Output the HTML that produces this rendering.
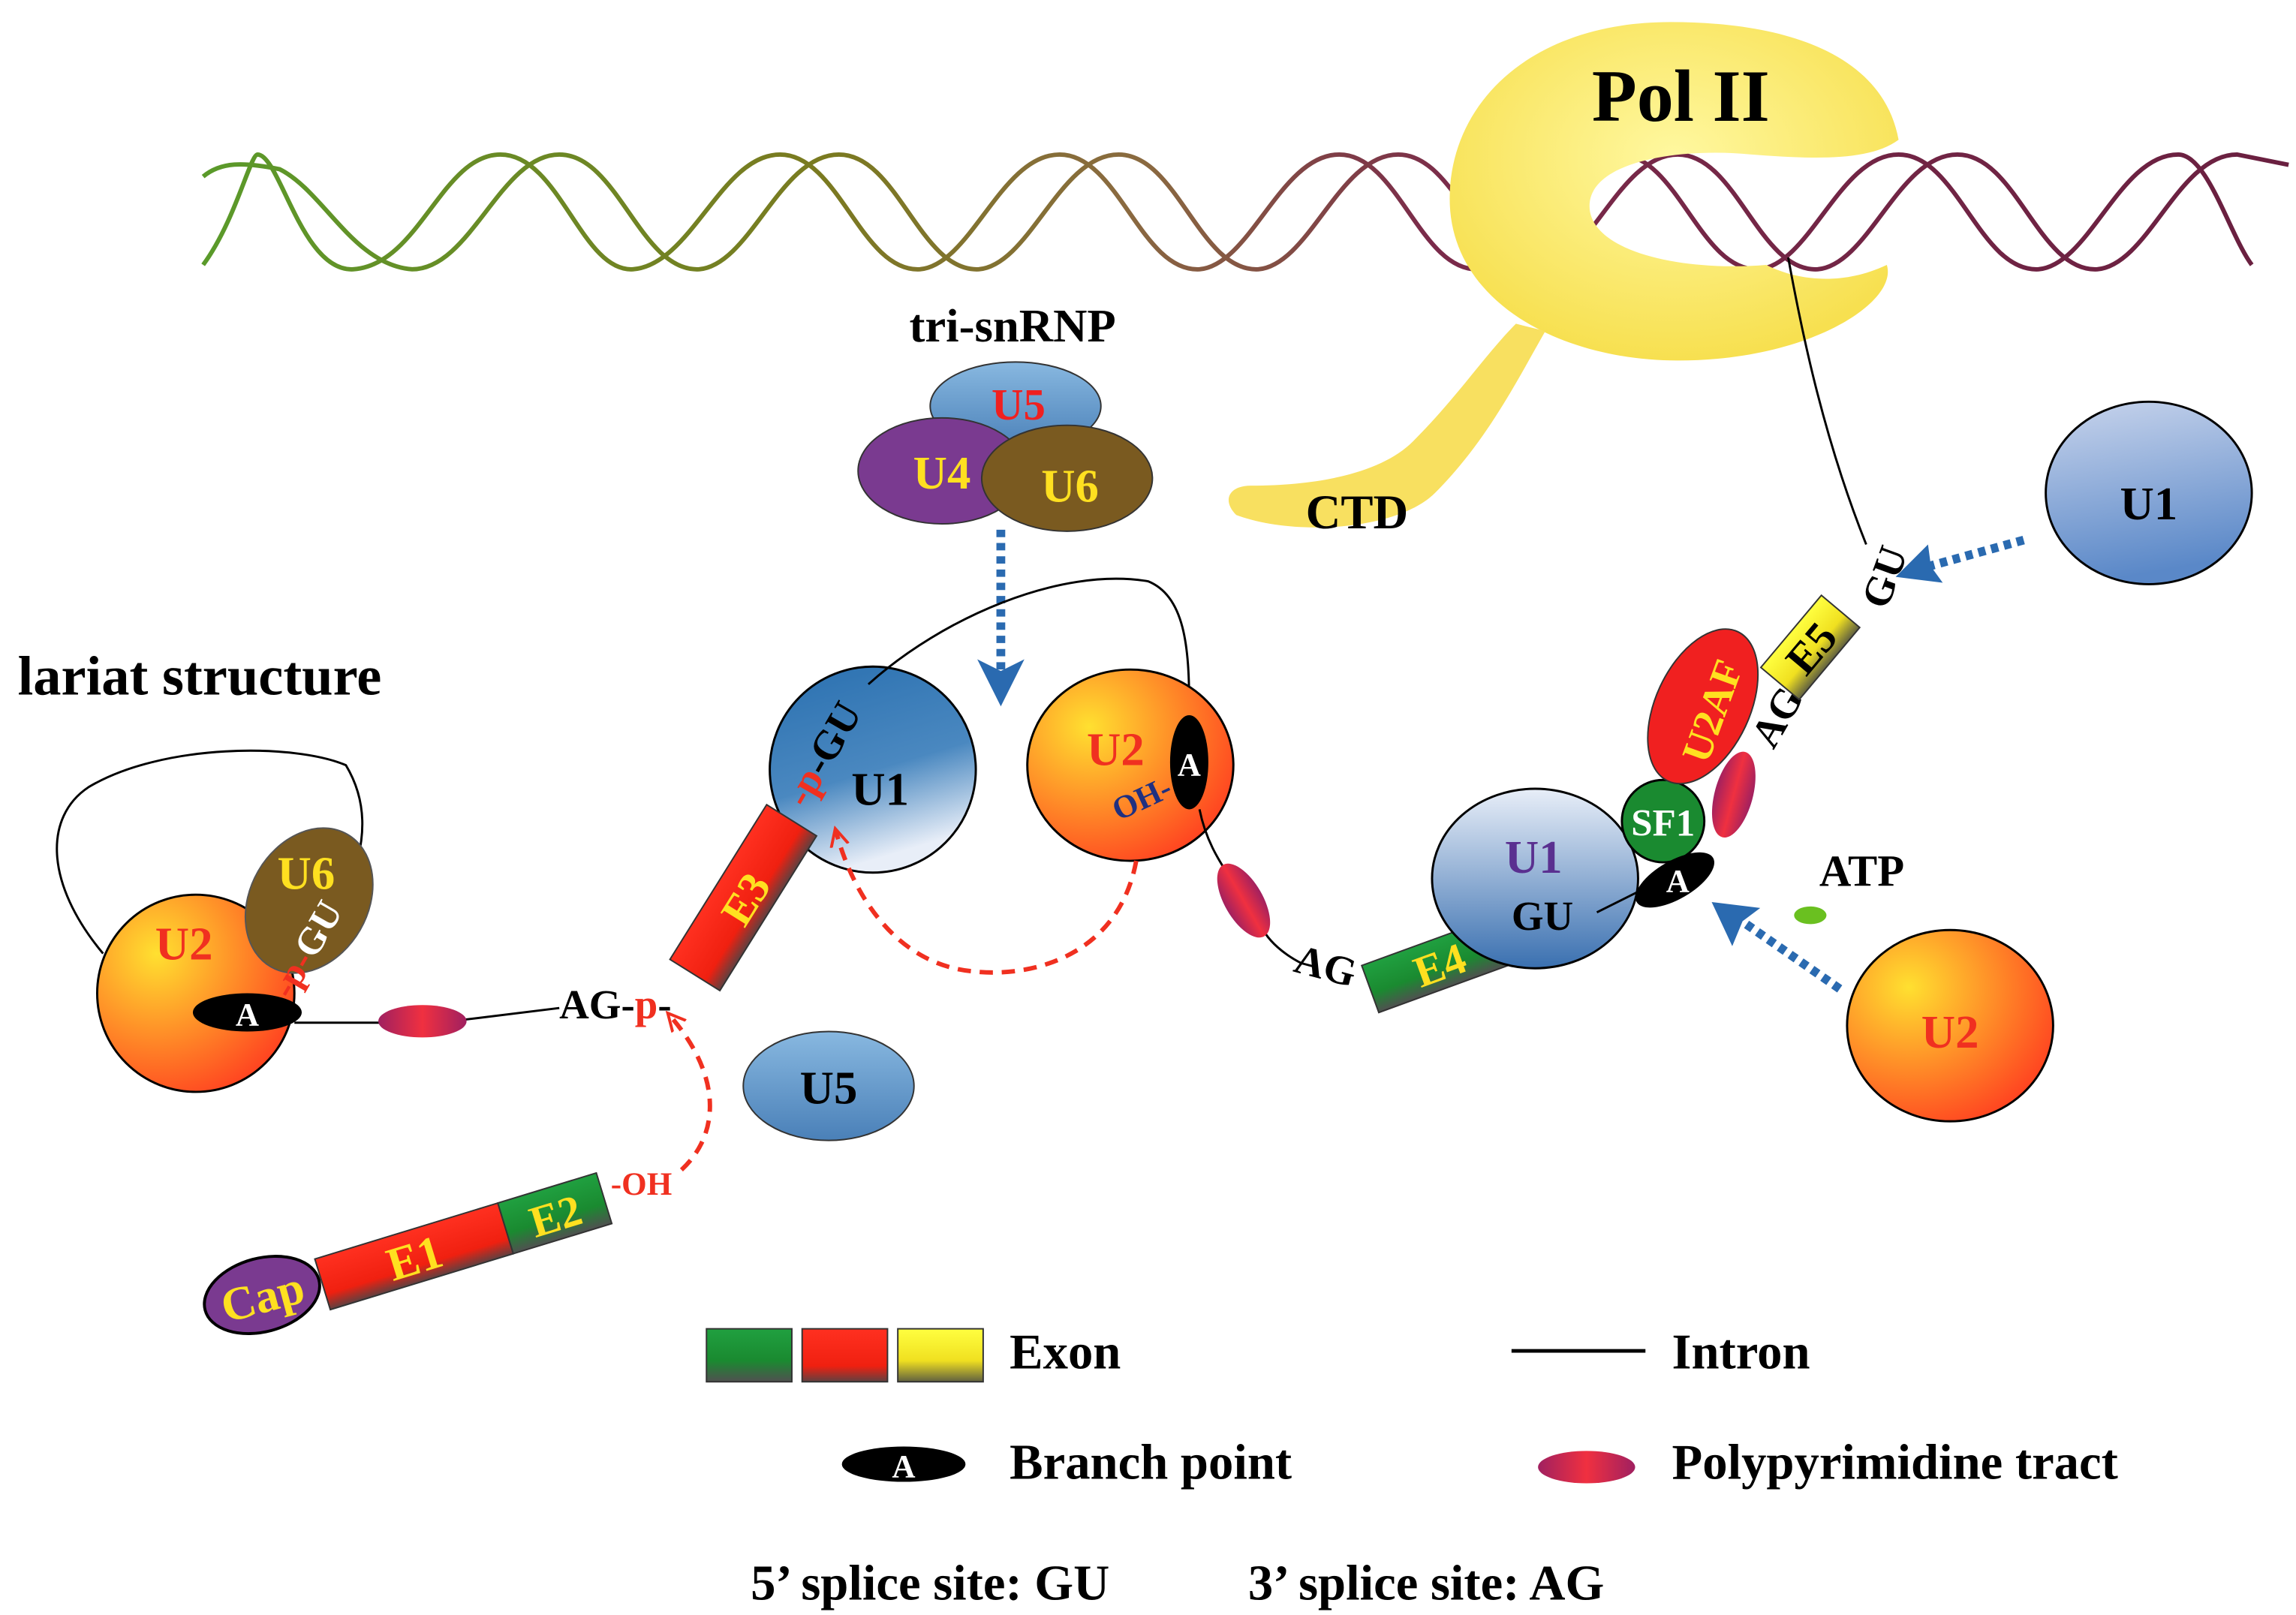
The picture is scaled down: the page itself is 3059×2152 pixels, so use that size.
<!DOCTYPE html>
<html><head><meta charset="utf-8"><style>html,body{margin:0;padding:0;background:#fff}svg{display:block}</style></head><body>
<svg width="3059" height="2152" viewBox="0 0 1560 1097.5" xmlns="http://www.w3.org/2000/svg" font-family="Liberation Serif, serif" font-weight="bold">
<defs>
<linearGradient id="dna" x1="0" x2="1"><stop offset="0" stop-color="#5a9a2a"/><stop offset="0.3" stop-color="#7a7a20"/><stop offset="0.45" stop-color="#8a6a40"/><stop offset="0.6" stop-color="#7a2a4a"/><stop offset="1" stop-color="#6a2040"/></linearGradient>
<radialGradient id="pol" cx="0.5" cy="0.4" r="0.6"><stop offset="0" stop-color="#fff8a0"/><stop offset="1" stop-color="#f7e050"/></radialGradient>
<linearGradient id="blue" x1="0" y1="0" x2="0.3" y2="1"><stop offset="0" stop-color="#2a70b0"/><stop offset="0.6" stop-color="#4a88c0"/><stop offset="1" stop-color="#e8eef8"/></linearGradient>
<linearGradient id="lblue" x1="0" y1="0" x2="0.2" y2="1"><stop offset="0" stop-color="#c8d4ec"/><stop offset="1" stop-color="#5a88c8"/></linearGradient>
<linearGradient id="u1r" x1="0" y1="0" x2="0" y2="1"><stop offset="0" stop-color="#e8eef8"/><stop offset="1" stop-color="#3a70b0"/></linearGradient>
<radialGradient id="org" cx="0.3" cy="0.3" r="0.8"><stop offset="0" stop-color="#ffe030"/><stop offset="1" stop-color="#ff4020"/></radialGradient>
<linearGradient id="u5" x1="0" y1="0" x2="0" y2="1"><stop offset="0" stop-color="#88b8e0"/><stop offset="1" stop-color="#4a80b8"/></linearGradient>
<linearGradient id="grn" x1="0" y1="0" x2="0" y2="1"><stop offset="0" stop-color="#20a040"/><stop offset="0.6" stop-color="#1a8a30"/><stop offset="1" stop-color="#505050"/></linearGradient>
<linearGradient id="red" x1="0" y1="0" x2="0" y2="1"><stop offset="0" stop-color="#ff3020"/><stop offset="0.7" stop-color="#f02010"/><stop offset="1" stop-color="#604040"/></linearGradient>
<linearGradient id="yel" x1="0" y1="0" x2="0" y2="1"><stop offset="0" stop-color="#ffff40"/><stop offset="0.6" stop-color="#f0e020"/><stop offset="1" stop-color="#606040"/></linearGradient>
<linearGradient id="ppt" x1="0" x2="1"><stop offset="0" stop-color="#a02060"/><stop offset="0.5" stop-color="#f03040"/><stop offset="1" stop-color="#a02060"/></linearGradient>
<marker id="ar" markerWidth="14" markerHeight="14" refX="10" refY="7" orient="auto" markerUnits="userSpaceOnUse"><path d="M0,1 L12,7 L0,13" fill="none" stroke="#f03020" stroke-width="2"/></marker>
</defs>
<path d="M138,180 C160,150 170,105 175,105 C190,105 205,185 240,183 C285,180 300,105 340,105 C380,105 395,185 430,183 C470,180 490,105 530,105 C570,105 585,185 625,183 C660,180 680,105 720,105 C760,105 775,185 815,183 C850,180 870,105 910,105 C950,105 965,185 1005,183 C1040,180 1060,105 1100,105 C1140,105 1155,185 1195,183 C1230,180 1250,105 1290,105 C1330,105 1345,185 1385,183 C1420,180 1440,105 1480,105 C1500,105 1515,160 1530,180" fill="none" stroke="url(#dna)" stroke-width="3"/>
<path d="M138,120 C150,110 165,110 190,115 C220,130 240,180 280,183 C320,183 340,105 380,105 C420,105 435,185 475,183 C510,180 530,105 570,105 C610,105 625,185 665,183 C700,180 720,105 760,105 C800,105 815,185 855,183 C890,180 910,105 950,105 C990,105 1005,185 1045,183 C1080,180 1100,105 1140,105 C1180,105 1195,185 1235,183 C1270,180 1290,105 1330,105 C1370,105 1385,185 1425,183 C1460,180 1480,105 1520,105 L1555,112" fill="none" stroke="url(#dna)" stroke-width="3"/>
<path fill-rule="evenodd" fill="url(#pol)" d="M1290,95 C1280,40 1220,15 1135,15 C1040,15 985,70 985,135 C985,205 1060,245 1140,245 C1230,245 1290,205 1282,180 C1250,195 1220,190 1200,180 C1140,185 1080,170 1080,140 C1080,110 1140,100 1190,105 C1230,108 1270,110 1290,95 Z"/>
<path d="M1050,225 C1030,260 1010,300 975,335 C950,360 880,365 840,350 C830,340 835,330 850,330 C900,330 940,320 960,300 C990,270 1010,240 1030,220 Z" fill="#f8e060"/>
<text x="1142" y="82" font-size="50" text-anchor="middle">Pol II</text>
<text x="922" y="359" font-size="33" text-anchor="middle">CTD</text>
<path d="M1215,175 C1225,230 1240,300 1268,370" fill="none" stroke="#000" stroke-width="1.5"/>
<text x="688" y="232" font-size="32" text-anchor="middle">tri-snRNP</text>
<ellipse cx="690" cy="276" rx="58" ry="30" fill="url(#u5)" stroke="#333"/>
<text x="692" y="285" font-size="30" fill="#f02020" text-anchor="middle">U5</text>
<ellipse cx="640" cy="320" rx="57" ry="36" fill="#7a3a90" stroke="#333"/>
<text x="640" y="332" font-size="32" fill="#ffe020" text-anchor="middle">U4</text>
<ellipse cx="725" cy="325" rx="58" ry="36" fill="#7a5a20" stroke="#333"/>
<text x="727" y="341" font-size="32" fill="#ffe020" text-anchor="middle">U6</text>
<line x1="680" y1="360" x2="680" y2="455" stroke="#2a6ab0" stroke-width="6" stroke-dasharray="5,4"/>
<path d="M664,448 L680,480 L696,448 L680,456 Z" fill="#2a6ab0"/>
<text x="12" y="472" font-size="38">lariat structure</text>
<path d="M70,648 C30,600 30,555 60,535 C110,505 200,505 235,520 C250,545 248,570 240,595" fill="none" stroke="#000" stroke-width="1.5"/>
<circle cx="133" cy="675" r="67" fill="url(#org)" stroke="#000" stroke-width="1.5"/>
<ellipse cx="210" cy="612" rx="40" ry="52" transform="rotate(30 210 612)" fill="#7a5a20" stroke="#555"/>
<text x="208" y="604" font-size="32" fill="#ffe020" text-anchor="middle">U6</text>
<text x="125" y="652" font-size="32" fill="#f03020" text-anchor="middle">U2</text>
<text x="0" y="0" font-size="26" fill="#fff" transform="translate(198,680) rotate(-60)"><tspan fill="#f03020">-p-</tspan>GU</text>
<ellipse cx="168" cy="688" rx="37" ry="13" fill="#000"/>
<text x="168" y="697" font-size="22" fill="#fff" text-anchor="middle">A</text>
<path d="M200,695 L260,695 M315,693 L380,685" stroke="#000" stroke-width="1.5"/>
<ellipse cx="287" cy="694" rx="30" ry="11" fill="url(#ppt)"/>
<text x="380" y="692" font-size="28">AG-<tspan fill="#f03020">p</tspan>-</text>
<circle cx="593" cy="523" r="70" fill="url(#blue)" stroke="#000" stroke-width="1.5"/>
<text x="598" y="547" font-size="32" text-anchor="middle">U1</text>
<text x="0" y="0" font-size="28" transform="translate(548,550) rotate(-60)"><tspan fill="#f03020">-p</tspan>-GU</text>
<g transform="translate(505,610) rotate(-58)"><rect x="-62" y="-20" width="124" height="40" fill="url(#red)" stroke="#333"/><text x="0" y="12" font-size="30" fill="#ffe020" text-anchor="middle">E3</text></g>
<path d="M590,465 C640,420 720,385 780,395 C805,405 808,440 808,480" fill="none" stroke="#000" stroke-width="1.5"/>
<ellipse cx="768" cy="520" rx="70" ry="65" fill="url(#org)" stroke="#000" stroke-width="1.5"/>
<text x="758" y="520" font-size="32" fill="#f03020" text-anchor="middle">U2</text>
<ellipse cx="808" cy="518" rx="13" ry="32" fill="#000"/>
<text x="808" y="527" font-size="22" fill="#fff" text-anchor="middle">A</text>
<text x="0" y="0" font-size="22" fill="#203080" transform="translate(760,558) rotate(-25)">OH-</text>
<path d="M815,550 C820,575 832,590 838,600 M855,625 C860,640 875,650 885,655" fill="none" stroke="#000" stroke-width="1.5"/>
<ellipse cx="845" cy="612" rx="13" ry="28" transform="rotate(-30 845 612)" fill="url(#ppt)"/>
<path d="M772,585 C760,650 700,665 660,660 C610,655 580,610 568,565" fill="none" stroke="#f03020" stroke-width="3" stroke-dasharray="9,6" marker-end="url(#ar)"/>
<ellipse cx="563" cy="738" rx="58" ry="37" fill="url(#u5)" stroke="#333"/>
<text x="563" y="750" font-size="32" text-anchor="middle">U5</text>
<path d="M463,795 C490,770 490,730 455,690" fill="none" stroke="#f03020" stroke-width="3" stroke-dasharray="9,6" marker-end="url(#ar)"/>
<g transform="translate(310,845) rotate(-17)">
<rect x="-95" y="-18" width="130" height="36" fill="url(#red)" stroke="#333"/>
<rect x="35" y="-18" width="70" height="36" fill="url(#grn)" stroke="#333"/>
<text x="-30" y="12" font-size="32" fill="#ffe020" text-anchor="middle">E1</text>
<text x="70" y="12" font-size="30" fill="#ffe020" text-anchor="middle">E2</text>
</g>
<text x="415" y="812" font-size="22" fill="#f03020">-OH</text>
<ellipse cx="178" cy="880" rx="40" ry="25" transform="rotate(-15 178 880)" fill="#7a3a90" stroke="#000" stroke-width="2"/>
<text x="178" y="892" font-size="32" fill="#ffe020" text-anchor="middle" transform="rotate(-15 178 880)">Cap</text>
<text x="0" y="0" font-size="28" transform="translate(878,660) rotate(15)">AG</text>
<g transform="translate(978,655) rotate(-20)"><rect x="-50" y="-17" width="100" height="34" fill="url(#grn)" stroke="#333"/><text x="0" y="11" font-size="30" fill="#ffe020" text-anchor="middle">E4</text></g>
<ellipse cx="1043" cy="597" rx="70" ry="61" fill="url(#u1r)" stroke="#000" stroke-width="1.5"/>
<text x="1042" y="593" font-size="32" fill="#5a3090" text-anchor="middle">U1</text>
<text x="1048" y="632" font-size="28" text-anchor="middle">GU</text>
<path d="M1085,620 L1115,605" stroke="#000" stroke-width="1.5"/>
<ellipse cx="1178" cy="540" rx="13" ry="30" transform="rotate(15 1178 540)" fill="url(#ppt)"/>
<circle cx="1130" cy="558" r="28" fill="#1a8a30" stroke="#000" stroke-width="1.5"/>
<text x="1130" y="568" font-size="26" fill="#fff" text-anchor="middle">SF1</text>
<ellipse cx="1138" cy="598" rx="30" ry="13" transform="rotate(-30 1138 598)" fill="#000"/>
<text x="1140" y="606" font-size="22" fill="#fff" text-anchor="middle">A</text>
<ellipse cx="1157" cy="480" rx="56" ry="32" transform="rotate(-65 1157 480)" fill="#f02020" stroke="#333"/>
<text x="0" y="0" font-size="28" fill="#ffe020" transform="translate(1160,520) rotate(-70)">U2AF</text>
<text x="0" y="0" font-size="28" transform="translate(1205,510) rotate(-60)">AG</text>
<g transform="translate(1230,440) rotate(-50)"><rect x="-32" y="-17" width="64" height="34" fill="url(#yel)" stroke="#333"/><text x="0" y="11" font-size="30" text-anchor="middle">E5</text></g>
<text x="0" y="0" font-size="28" transform="translate(1282,415) rotate(-70)">GU</text>
<line x1="1375" y1="367" x2="1310" y2="385" stroke="#2a6ab0" stroke-width="6" stroke-dasharray="5,4"/>
<path d="M1310,370 L1288,392 L1320,396 L1312,385 Z" fill="#2a6ab0"/>
<ellipse cx="1460" cy="335" rx="70" ry="62" fill="url(#lblue)" stroke="#000" stroke-width="1.5"/>
<text x="1460" y="353" font-size="32" text-anchor="middle">U1</text>
<line x1="1250" y1="672" x2="1185" y2="627" stroke="#2a6ab0" stroke-width="6" stroke-dasharray="5,4"/>
<path d="M1177,643 L1163,613 L1196,617 L1184,626 Z" fill="#2a6ab0"/>
<ellipse cx="1325" cy="697" rx="70" ry="65" fill="url(#org)" stroke="#000" stroke-width="1.5"/>
<text x="1325" y="712" font-size="32" fill="#f03020" text-anchor="middle">U2</text>
<text x="1265" y="602" font-size="30" text-anchor="middle">ATP</text>
<ellipse cx="1230" cy="622" rx="11" ry="6" fill="#6ac020"/>
<rect x="480" y="903" width="58" height="36" fill="url(#grn)" stroke="#333"/>
<rect x="545" y="903" width="58" height="36" fill="url(#red)" stroke="#333"/>
<rect x="610" y="903" width="58" height="36" fill="url(#yel)" stroke="#333"/>
<text x="686" y="930" font-size="34">Exon</text>
<line x1="1027" y1="918" x2="1118" y2="918" stroke="#000" stroke-width="2.5"/>
<text x="1136" y="930" font-size="34">Intron</text>
<ellipse cx="614" cy="995" rx="42" ry="12" fill="#000"/>
<text x="614" y="1004" font-size="22" fill="#fff" text-anchor="middle">A</text>
<text x="686" y="1005" font-size="34">Branch point</text>
<ellipse cx="1078" cy="997" rx="33" ry="11" fill="url(#ppt)"/>
<text x="1136" y="1005" font-size="34">Polypyrimidine tract</text>
<text x="510" y="1087" font-size="34">5’ splice site: GU</text>
<text x="848" y="1087" font-size="34">3’ splice site: AG</text>
</svg>
</body></html>
